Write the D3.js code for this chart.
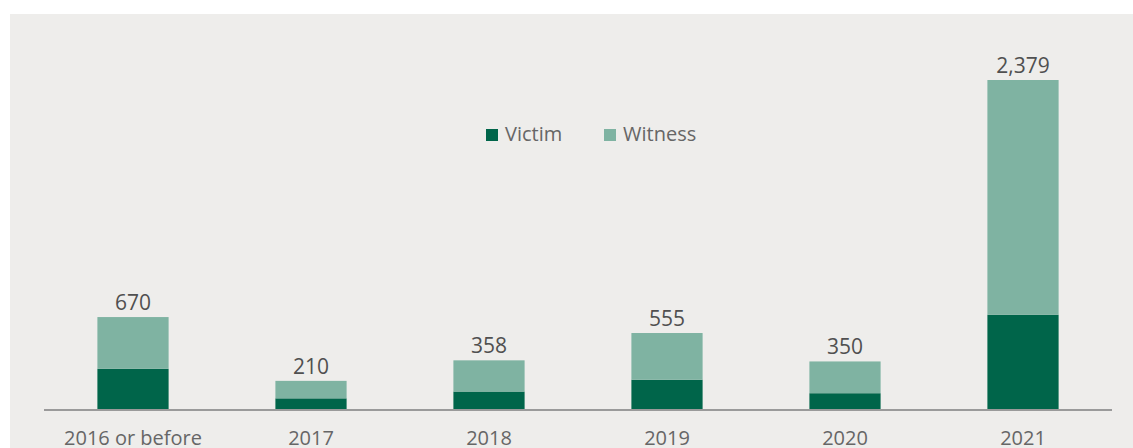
<!DOCTYPE html>
<html>
<head>
<meta charset="utf-8">
<script src="https://cdn.jsdelivr.net/npm/d3@7"></script>
<style>
  html, body { margin: 0; padding: 0; background: #ffffff; }
  svg { display: block; font-family: "Open Sans", "Noto Sans", sans-serif; }
</style>
</head>
<body>
<svg id="chart" width="1133" height="448"></svg>
<script>
// Reports by year, split by role
const categories = ["2016 or before", "2017", "2018", "2019", "2020", "2021"];
const victim  = [297, 84, 133, 218, 121, 687];
const witness = [373, 126, 225, 337, 229, 1692];
const seriesNames = ["Victim", "Witness"];
const seriesColors = ["#00654a", "#7fb3a2"];

const rows = categories.map((c, i) => ({ category: c, Victim: victim[i], Witness: witness[i] }));
const totals = rows.map(r => r.Victim + r.Witness);

const svg = d3.select("#chart");
const W = 1133, H = 448;

// Panel background
svg.append("rect")
  .attr("x", 10).attr("y", 14)
  .attr("width", W - 10).attr("height", H - 14)
  .attr("fill", "#eeedeb");

const baseY = 410;
const x = d3.scaleBand()
  .domain(categories)
  .range([44, 1112])
  .paddingInner(0.6)
  .paddingOuter(0.3);

const y = d3.scaleLinear()
  .domain([0, d3.max(totals)])
  .range([baseY, 80]);

const stack = d3.stack().keys(seriesNames);
const layers = stack(rows);

const g = svg.append("g");
g.selectAll("g.layer")
  .data(layers)
  .join("g")
  .attr("class", "layer")
  .attr("fill", (d, i) => seriesColors[i])
  .selectAll("rect")
  .data(d => d)
  .join("rect")
  .attr("x", d => x(d.data.category))
  .attr("width", x.bandwidth())
  .attr("y", d => y(d[1]))
  .attr("height", d => y(d[0]) - y(d[1]));

// Baseline axis
const axis = d3.axisBottom(x).tickSize(0).tickPadding(0);
const axisG = svg.append("g")
  .attr("transform", `translate(0,${baseY})`)
  .call(axis);
axisG.select(".domain")
  .attr("d", "M44,0H1112")
  .attr("stroke", "#9a9a9a")
  .attr("stroke-width", 2);
axisG.selectAll(".tick text")
  .attr("y", 35)
  .attr("dy", 0)
  .attr("fill", "#666666")
  .attr("font-size", 20)
  .attr("font-family", "\"Open Sans\", sans-serif");

// Totals above bars
svg.append("g")
  .selectAll("text")
  .data(rows)
  .join("text")
  .attr("x", d => x(d.category) + x.bandwidth() / 2)
  .attr("y", (d, i) => y(totals[i]) - 7)
  .attr("text-anchor", "middle")
  .attr("fill", "#505050")
  .attr("font-size", 21)
  .text((d, i) => d3.format(",")(totals[i]));

// Legend
const legendItems = [
  { name: seriesNames[0], color: seriesColors[0], x: 486 },
  { name: seriesNames[1], color: seriesColors[1], x: 604 }
];
const lg = svg.append("g")
  .selectAll("g")
  .data(legendItems)
  .join("g")
  .attr("transform", d => `translate(${d.x},129)`);
lg.append("rect")
  .attr("width", 12).attr("height", 12)
  .attr("fill", d => d.color);
lg.append("text")
  .attr("x", 19).attr("y", 12)
  .attr("fill", "#666666")
  .attr("font-size", 20)
  .text(d => d.name);
</script>
</body>
</html>
